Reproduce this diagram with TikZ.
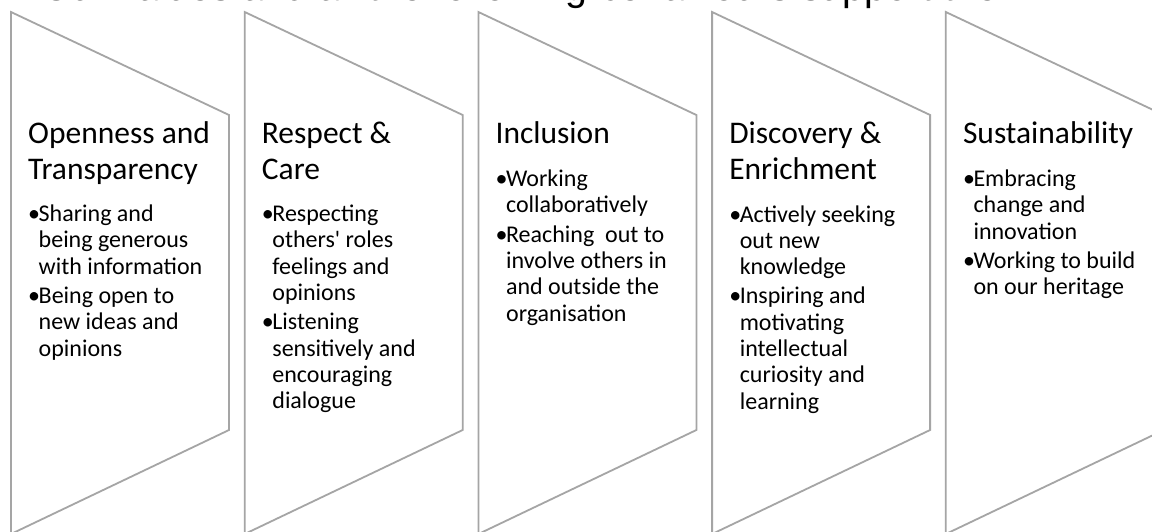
\documentclass[tikz,border=0pt]{standalone}
\usepackage{fontspec}
\setmainfont{Carlito}
\newfontfamily\titlefont{Liberation Sans}
\definecolor{chevgray}{HTML}{A5A5A5}

% heading and bullet blocks, first baseline on the node's base
\newcommand\headtext[1]{\parbox[t]{215pt}{\raggedright\fontsize{31.5}{36}\selectfont #1}}
\newcommand\bulletlist[1]{\parbox[t]{215pt}{\raggedright\fontsize{24}{26.3}\selectfont\setlength\parskip{3pt}#1}}
\newcommand\bitem[1]{\par\hangindent=9pt\hangafter=1\noindent\makebox[9pt][c]{\textbullet}#1\par}

\begin{document}
\begin{tikzpicture}[x=1pt,y=-1pt,
  chevron/.style={draw=chevgray, line width=1.8pt, line join=miter},
  textblock/.style={anchor=base west, inner sep=0pt, text=black}]
\path[use as bounding box] (0,0) rectangle (1152,531);
\fill[white] (0,0) rectangle (1152,531);
\clip (0,0) rectangle (1152,531);

% title line, running off the top edge
\node[textblock] (title) at (41,0.8)
  {\titlefont\fontsize{39.3}{46}\selectfont Our values and all the following behaviours support them};

% the five chevron panels
\foreach \x in {11,244.7,478.4,712.1,945.8}
  \draw[chevron] (\x,12) -- ++(218,103) -- ++(0,315) -- ++(-218,104) -- cycle;

% panel 1
\node[textblock] (h1) at (28,143) {\headtext{Openness and\newline Transparency}};
\node[textblock] (l1) at (29.5,221.5) {\bulletlist{%
  \bitem{Sharing and\newline being generous\newline with information}%
  \bitem{Being open to\newline new ideas and\newline opinions}}};

% panel 2
\node[textblock] (h2) at (261.7,143) {\headtext{Respect \&\newline Care}};
\node[textblock] (l2) at (263.2,221.5) {\bulletlist{%
  \bitem{Respecting\newline others\textquotesingle\ roles\newline feelings and\newline opinions}%
  \bitem{Listening\newline sensitively and\newline encouraging\newline dialogue}}};

% panel 3
\node[textblock] (h3) at (495.4,143) {\headtext{Inclusion}};
\node[textblock] (l3) at (496.9,186.5) {\bulletlist{%
  \bitem{Working\newline collaboratively}%
  \bitem{Reaching\ \ out to\newline involve others in\newline and outside the\newline organisation}}};

% panel 4
\node[textblock] (h4) at (729.1,143) {\headtext{Discovery \&\newline Enrichment}};
\node[textblock] (l4) at (730.6,222) {\bulletlist{%
  \bitem{Actively seeking\newline out new\newline knowledge}%
  \bitem{Inspiring and\newline motivating\newline intellectual\newline curiosity and\newline learning}}};

% panel 5
\node[textblock] (h5) at (962.8,143) {\headtext{Sustainability}};
\node[textblock] (l5) at (964.3,186.5) {\bulletlist{%
  \bitem{Embracing\newline change and\newline innovation}%
  \bitem{Working to build\newline on our heritage}}};
\end{tikzpicture}
\end{document}
